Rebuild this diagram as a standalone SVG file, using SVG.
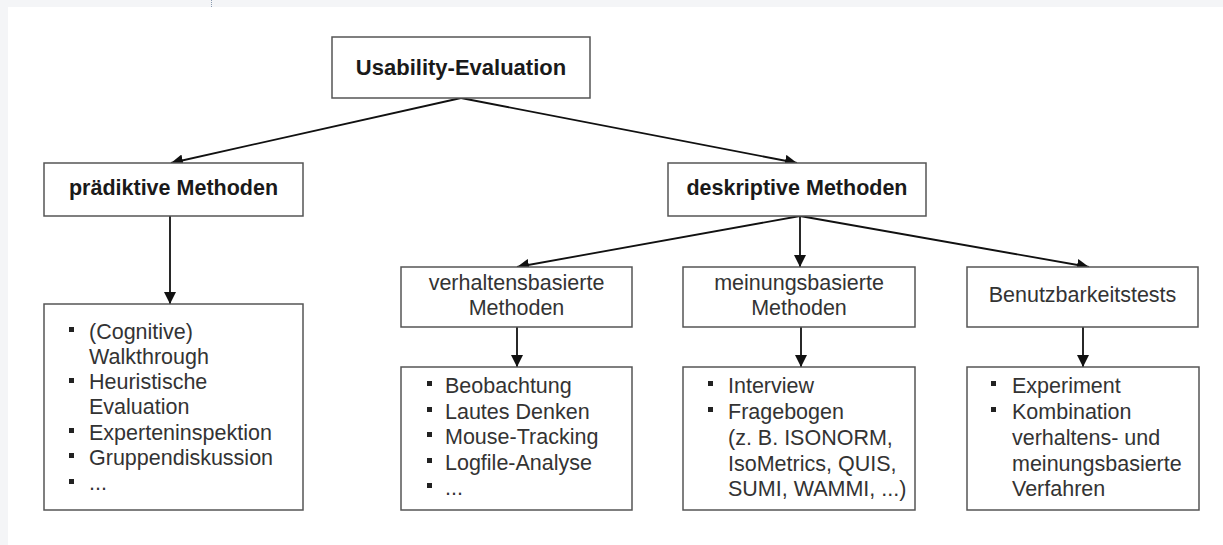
<svg xmlns="http://www.w3.org/2000/svg" width="1223" height="545" viewBox="0 0 1223 545">
<defs>
<style>
.box{fill:#fff;stroke:#555;stroke-width:1.5}
.t{font-family:"Liberation Sans",Arial,sans-serif;font-size:21.5px;fill:#333}
.b{font-family:"Liberation Sans",Arial,sans-serif;font-size:21.5px;font-weight:bold;fill:#1a1a1a}
.c{text-anchor:middle}
.bul{fill:#222}
.conn{stroke:#111;stroke-width:1.8;fill:none;marker-end:url(#ah)}
</style>
<marker id="ah" markerUnits="userSpaceOnUse" markerWidth="12" markerHeight="12" refX="12" refY="6" orient="auto">
<path d="M0,0 L12,6 L0,12 z" fill="#111"/>
</marker>
</defs>
<rect x="0" y="0" width="1223" height="545" fill="#f4f5f7"/>
<rect x="8" y="7" width="1215" height="538" fill="#fff"/>
<line x1="211.5" y1="0" x2="211.5" y2="7" stroke="#8a9bb0" stroke-width="1" stroke-dasharray="1,1"/>

<g id="connectors">
<line class="conn" x1="461" y1="98" x2="171" y2="163"/>
<line class="conn" x1="461" y1="98" x2="797" y2="163"/>
<line class="conn" x1="170" y1="216" x2="170" y2="304"/>
<line class="conn" x1="800" y1="216" x2="517" y2="267"/>
<line class="conn" x1="800" y1="216" x2="800" y2="267"/>
<line class="conn" x1="800" y1="216" x2="1089" y2="267"/>
<line class="conn" x1="517" y1="327" x2="517" y2="367"/>
<line class="conn" x1="801" y1="327" x2="801" y2="367"/>
<line class="conn" x1="1083" y1="327" x2="1083" y2="367"/>
</g>

<g id="usability-evaluation">
<rect class="box" x="332" y="37" width="258" height="61"/>
<text class="b c" x="461" y="75" style="font-size:22px">Usability-Evaluation</text>
</g>

<g id="praediktive-methoden">
<rect class="box" x="44" y="163" width="259" height="53"/>
<text class="b c" x="173.5" y="195">prädiktive Methoden</text>
</g>

<g id="deskriptive-methoden">
<rect class="box" x="668" y="163" width="258" height="53"/>
<text class="b c" x="797" y="195">deskriptive Methoden</text>
</g>

<g id="verhaltensbasierte-methoden">
<rect class="box" x="401" y="267" width="231" height="60"/>
<text class="t c" x="516.5" y="290">verhaltensbasierte</text>
<text class="t c" x="516.5" y="315">Methoden</text>
</g>

<g id="meinungsbasierte-methoden">
<rect class="box" x="683" y="267" width="232" height="60"/>
<text class="t c" x="799" y="290">meinungsbasierte</text>
<text class="t c" x="799" y="315">Methoden</text>
</g>

<g id="benutzbarkeitstests">
<rect class="box" x="967" y="267" width="231" height="60"/>
<text class="t c" x="1082.5" y="302">Benutzbarkeitstests</text>
</g>

<g id="praediktive-liste">
<rect class="box" x="44" y="304" width="259" height="206"/>
<rect class="bul" x="69" y="327" width="5" height="5"/>
<rect class="bul" x="69" y="378" width="5" height="5"/>
<rect class="bul" x="69" y="428" width="5" height="5"/>
<rect class="bul" x="69" y="453" width="5" height="5"/>
<rect class="bul" x="69" y="479" width="5" height="5"/>
<text class="t" x="89" y="339">(Cognitive)</text>
<text class="t" x="89" y="364">Walkthrough</text>
<text class="t" x="89" y="389">Heuristische</text>
<text class="t" x="89" y="414">Evaluation</text>
<text class="t" x="89" y="440">Experteninspektion</text>
<text class="t" x="89" y="465">Gruppendiskussion</text>
<text class="t" x="89" y="490">...</text>
</g>

<g id="verhaltens-liste">
<rect class="box" x="401" y="367" width="231" height="143"/>
<rect class="bul" x="427" y="381" width="5" height="5"/>
<rect class="bul" x="427" y="407" width="5" height="5"/>
<rect class="bul" x="427" y="432" width="5" height="5"/>
<rect class="bul" x="427" y="458" width="5" height="5"/>
<rect class="bul" x="427" y="483" width="5" height="5"/>
<text class="t" x="445" y="393">Beobachtung</text>
<text class="t" x="445" y="418.5">Lautes Denken</text>
<text class="t" x="445" y="444">Mouse-Tracking</text>
<text class="t" x="445" y="469.5">Logfile-Analyse</text>
<text class="t" x="445" y="495">...</text>
</g>

<g id="meinungs-liste">
<rect class="box" x="683" y="367" width="232" height="143"/>
<rect class="bul" x="708" y="381" width="5" height="5"/>
<rect class="bul" x="708" y="407" width="5" height="5"/>
<text class="t" x="728" y="392.5">Interview</text>
<text class="t" x="728" y="418.5">Fragebogen</text>
<text class="t" x="728" y="444.5">(z. B. ISONORM,</text>
<text class="t" x="728" y="470.5">IsoMetrics, QUIS,</text>
<text class="t" x="728" y="496">SUMI, WAMMI, ...)</text>
</g>

<g id="benutzbarkeits-liste">
<rect class="box" x="967" y="367" width="232" height="143"/>
<rect class="bul" x="991" y="381" width="5" height="5"/>
<rect class="bul" x="991" y="407" width="5" height="5"/>
<text class="t" x="1012" y="393">Experiment</text>
<text class="t" x="1012" y="419">Kombination</text>
<text class="t" x="1012" y="445">verhaltens- und</text>
<text class="t" x="1012" y="470.5">meinungsbasierte</text>
<text class="t" x="1012" y="496">Verfahren</text>
</g>
</svg>
